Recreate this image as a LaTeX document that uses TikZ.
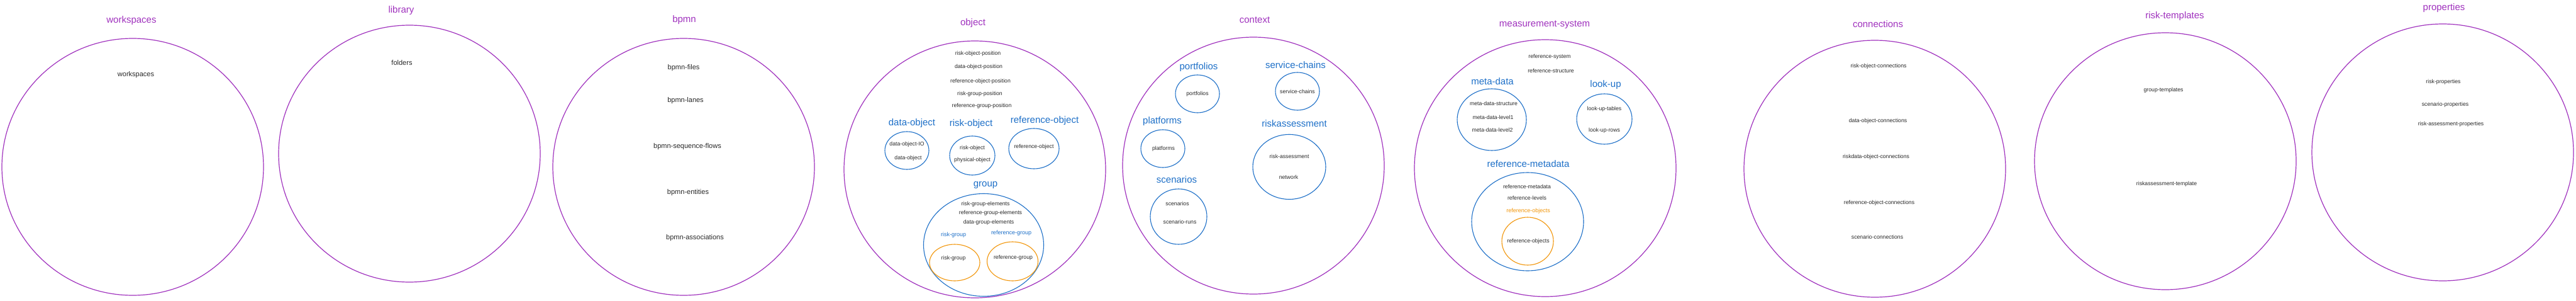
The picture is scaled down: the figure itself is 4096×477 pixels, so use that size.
\documentclass[tikz,border=0pt]{standalone}
\usepackage{fontspec}
\setmainfont{Liberation Sans}
\usetikzlibrary{shapes.geometric}
\definecolor{areapurple}{RGB}{160,50,190}
\definecolor{partblue}{RGB}{30,112,200}
\definecolor{memberorange}{RGB}{242,150,10}
\definecolor{itemgray}{RGB}{40,40,40}
\begin{document}
\begin{tikzpicture}[x=1pt,y=-1pt,
  area/.style={ellipse,draw=areapurple,line width=1.2pt,inner sep=0pt,
               minimum width=416pt,minimum height=408pt},
  part/.style={ellipse,draw=partblue,line width=1.1pt,inner sep=0pt},
  member/.style={ellipse,draw=memberorange,line width=1.1pt,inner sep=0pt},
  dims/.style n args={2}{minimum width=#1pt,minimum height=#2pt},
  areatitle/.style={text=areapurple,font=\fontsize{15}{18}\selectfont},
  parttitle/.style={text=partblue,font=\fontsize{15}{18}\selectfont},
  membertitle/.style={font=\fontsize{9}{11}\selectfont,inner sep=0pt},
  item/.style={text=itemgray,font=\fontsize{8.7}{10}\selectfont,inner sep=0pt},
  bigitem/.style={text=itemgray,font=\fontsize{11}{13}\selectfont,inner sep=0pt}]
\path[use as bounding box,fill=white] (0,0) rectangle (4096,477);
% workspaces
\node[area] (ws) at (211,265) {};
\node[areatitle] (wstitle) at (209,33) {workspaces};
\node[bigitem] (wsitem) at (216,119) {workspaces};
% library
\node[area] (lib) at (651,244) {};
\node[areatitle] (libtitle) at (638,17) {library};
\node[bigitem] (folders) at (639,100) {folders};
% bpmn
\node[area] (bpmn) at (1087,265) {};
\node[areatitle] (bpmntitle) at (1088,32) {bpmn};
\node[bigitem] (bfiles) at (1087,108) {bpmn-files};
\node[bigitem] (blanes) at (1090,160) {bpmn-lanes};
\node[bigitem] (bflows) at (1093,233) {bpmn-sequence-flows};
\node[bigitem] (bentities) at (1094,306) {bpmn-entities};
\node[bigitem] (bassoc) at (1105,378) {bpmn-associations};
% object
\node[area] (obj) at (1550,269) {};
\node[areatitle] (objtitle) at (1547,37) {object};
\node[item] at (1555,85) {risk-object-position};
\node[item] at (1556,106) {data-object-position};
\node[item] at (1559,129) {reference-object-position};
\node[item] at (1558,149) {risk-group-position};
\node[item] at (1561,168) {reference-group-position};
\node[parttitle] (dotitle) at (1450,196) {data-object};
\node[part,dims={70}{60}] (dataobj) at (1442,239) {};
\node[item] (doio) at (1442,229) {data-object-IO};
\node[item] (doitem) at (1444,251) {data-object};
\node[parttitle] (rotitle) at (1544,197) {risk-object};
\node[part,dims={72}{62}] (riskobj) at (1546,247) {};
\node[item] (roitem) at (1546,235) {risk-object};
\node[item] (phys) at (1546,254) {physical-object};
\node[parttitle] (reftitle) at (1661,192) {reference-object};
\node[part,dims={80}{64}] (refobj) at (1644,236) {};
\node[item] (refitem) at (1644,233) {reference-object};
\node[parttitle] (grptitle) at (1567,294) {group};
\node[part,dims={191}{163}] (grp) at (1564,389) {};
\node[item] at (1567,324) {risk-group-elements};
\node[item] at (1575,338) {reference-group-elements};
\node[item] at (1572,353) {data-group-elements};
\node[membertitle,text=partblue] (rgtitle) at (1516,373) {risk-group};
\node[membertitle,text=partblue] (refgtitle) at (1608,370) {reference-group};
\node[member,dims={80}{58}] (riskgrp) at (1518,417) {};
\node[item] (rgitem) at (1516,410) {risk-group};
\node[member,dims={81}{62}] (refgrp) at (1610,415) {};
\node[item] (refgitem) at (1611,409) {reference-group};
% context
\node[area] (ctx) at (1993,263) {};
\node[areatitle] (ctxtitle) at (1995,32) {context};
\node[parttitle] (pftitle) at (1906,107) {portfolios};
\node[part,dims={70}{60}] (portf) at (1904,149) {};
\node[item] at (1904,149) {portfolios};
\node[parttitle] (sctitle) at (2060,103) {service-chains};
\node[part,dims={70}{60}] (svc) at (2063,145) {};
\node[item] at (2063,145) {service-chains};
\node[parttitle] (pltitle) at (1848,193) {platforms};
\node[part,dims={70}{60}] (platf) at (1849,236) {};
\node[item] at (1850,236) {platforms};
\node[parttitle] (ratitle) at (2058,196) {riskassessment};
\node[part,dims={116}{103}] (riska) at (2050,265) {};
\node[item] at (2050,248) {risk-assessment};
\node[item] at (2049,281) {network};
\node[parttitle] (sntitle) at (1871,285) {scenarios};
\node[part,dims={90}{88}] (scen) at (1874,344) {};
\node[item] at (1872,323) {scenarios};
\node[item] at (1876,352) {scenario-runs};
% measurement-system
\node[area] (ms) at (2457,267) {};
\node[areatitle] (mstitle) at (2456,39) {measurement-system};
\node[item] at (2464,90) {reference-system};
\node[item] at (2466,112) {reference-structure};
\node[parttitle] (mdtitle) at (2373,129) {meta-data};
\node[part,dims={110}{98}] (meta) at (2372,190) {};
\node[item] at (2375,164) {meta-data-structure};
\node[item] at (2374,186) {meta-data-level1};
\node[item] at (2373,206) {meta-data-level2};
\node[parttitle] (lutitle) at (2553,135) {look-up};
\node[part,dims={88}{80}] (lookup) at (2551,189) {};
\node[item] at (2551,173) {look-up-tables};
\node[item] at (2551,207) {look-up-rows};
\node[parttitle] (rmtitle) at (2430,260) {reference-metadata};
\node[part,dims={178}{156}] (refmeta) at (2429,352) {};
\node[item] at (2428,296) {reference-metadata};
\node[item] at (2428,314) {reference-levels};
\node[membertitle,text=memberorange] (rotitle2) at (2430,335) {reference-objects};
\node[member,dims={82}{76}] (refobjs) at (2429,383) {};
\node[item] at (2430,383) {reference-objects};
% connections
\node[area] (conn) at (2981,268) {};
\node[areatitle] (conntitle) at (2986,38) {connections};
\node[item] at (2987,105) {risk-object-connections};
\node[item] at (2986,192) {data-object-connections};
\node[item] at (2983,249) {riskdata-object-connections};
\node[item] at (2988,322) {reference-object-connections};
\node[item] at (2985,376) {scenario-connections};
% risk-templates
\node[area] (rt) at (3443,256) {};
\node[areatitle] (rttitle) at (3458,26) {risk-templates};
\node[item] at (3440,143) {group-templates};
\node[item] at (3445,292) {riskassessment-template};
% properties
\node[area] (prop) at (3884,242) {};
\node[areatitle] (proptitle) at (3886,13) {properties};
\node[item] at (3885,130) {risk-properties};
\node[item] at (3888,166) {scenario-properties};
\node[item] at (3897,197) {risk-assessment-properties};
\end{tikzpicture}
\end{document}
